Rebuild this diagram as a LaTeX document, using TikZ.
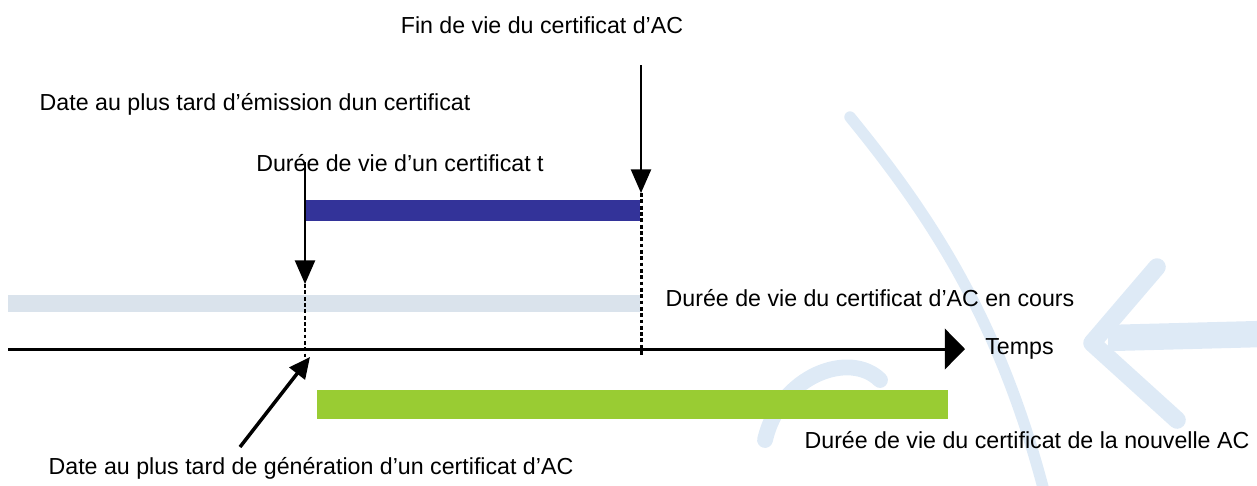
\documentclass[tikz,border=0pt]{standalone}
\usepackage{fontspec}
\setmainfont{Liberation Sans}
\usepackage{xcolor}
\usetikzlibrary{arrows.meta, calc}

\definecolor{cabarcol}{RGB}{218,227,236}
\definecolor{certbarcol}{RGB}{51,51,153}
\definecolor{newbarcol}{RGB}{153,204,51}
\definecolor{wmblue}{RGB}{222,234,246}

\begin{document}
\begin{tikzpicture}[x=0.02cm, y=-0.02cm,
  lbl/.style={font=\fontsize{13.2}{15}\selectfont, inner sep=0pt},
  bar/.style={inner sep=0pt, outer sep=0pt},
  marker/.style={line width=1.1pt, -{Triangle[length=13.5pt, width=11.5pt]}},
  limit/.style={line width=1.7pt, dash pattern=on 2.2pt off 1.4pt},
  wmark/.style={draw=wmblue, line cap=round, line join=round}]

\useasboundingbox (0,0) rectangle (1257,485);

% One pixel of the layout grid
\def\px{0.02cm}

% Faint logo behind the time line
\draw[wmark, line width=6.5pt] (850,117) .. controls (930,215) and (1000,320) .. (1045,495);
\draw[wmark, line width=10pt] (1157,267) -- (1092,343) -- (1177,420);
\draw[wmark, line width=15pt, line cap=butt] (1108,338) -- (1262,334);
\draw[wmark, line width=9pt] (765,440) .. controls (780,375) and (850,350) .. (880,380);

% Lifetime bars
\node[bar, fill=certbarcol, minimum width=334*\px, minimum height=21*\px]
(certbar) at (473,210.5) {};
\node[bar, fill=cabarcol, minimum width=632*\px, minimum height=17*\px]
(cabar)   at (324,303.5) {};
\node[bar, fill=newbarcol, minimum width=631*\px, minimum height=29*\px]
(newbar)  at (632.5,404.5) {};

% Time axis
\coordinate (t0) at (8,349);
\coordinate (t1) at (965,349);
\draw[line width=1.7pt, -{Triangle[length=11.5pt, width=23pt]}] (t0) -- (t1);
\node[lbl, anchor=west] (temps) at (985,349) {Temps};

% Labels
\node[lbl] (fin)     at (542,25)   {Fin de vie du certificat d'AC};
\node[lbl] (emis)    at (255,104)  {Date au plus tard d'émission dun certificat};
\node[lbl] (duree)   at (400,163)  {Durée de vie d'un certificat t};
\node[lbl] (encours) at (870,298)  {Durée de vie du certificat d'AC en cours};
\node[lbl] (nouv)    at (1027,440) {Durée de vie du certificat de la nouvelle AC};
\node[lbl] (gen)     at (311,468)  {Date au plus tard de génération d'un certificat d'AC};

% Limit markers
\coordinate (finstart)  at (641,65);
\coordinate (finend)    at (641,193);
\coordinate (finfoot)   at (641,356);
\coordinate (emisstart) at (305,162);
\coordinate (emisend)   at (305,284);
\coordinate (emisfoot)  at (305,357);
\coordinate (genstart)  at (240,447);
\coordinate (genend)    at (310,357);

\draw[limit] (finend) -- (finfoot);
\draw[limit] (emisend) -- (emisfoot);

\draw[marker] (finstart) -- (finend);
\draw[marker] (emisstart) -- (emisend);
\draw[line width=2pt, -{Triangle[length=12pt, width=11pt]}] (genstart) -- (genend);

\end{tikzpicture}
\end{document}
